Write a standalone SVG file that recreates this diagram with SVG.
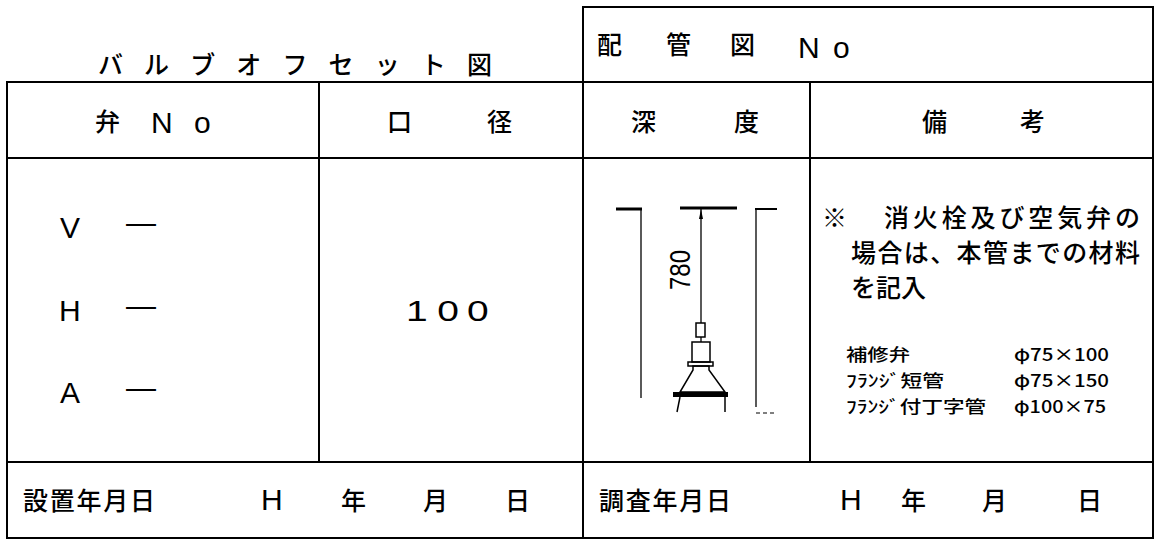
<svg xmlns="http://www.w3.org/2000/svg" width="1155" height="539" viewBox="0 0 1155 539">
<style>
.g{stroke:#000;stroke-width:2;fill:none;stroke-linecap:square}
.j{font-family:"Noto Sans CJK JP",sans-serif;font-size:25px;font-weight:500;fill:#000}
.l{font-family:"Liberation Sans","Noto Sans CJK JP",sans-serif;font-size:30px;fill:#000}
.s{font-family:"Noto Sans CJK JP",sans-serif;font-size:17px;font-weight:500;fill:#000}
.d{stroke:#000;fill:none}
</style>
<rect width="1155" height="539" fill="#fff"/>
<g id="grid" class="g">
<line x1="7" y1="82" x2="1153" y2="82"/>
<line x1="583" y1="7" x2="1153" y2="7"/>
<line x1="583" y1="7" x2="583" y2="538"/>
<line x1="7" y1="82" x2="7" y2="538"/>
<line x1="1153" y1="7" x2="1153" y2="538"/>
<line x1="319" y1="82" x2="319" y2="462"/>
<line x1="810" y1="82" x2="810" y2="462"/>
<line x1="7" y1="158" x2="1153" y2="158"/>
<line x1="7" y1="462" x2="1153" y2="462"/>
<line x1="7" y1="538" x2="1153" y2="538"/>
</g>
<g id="title">
<text class="j" x="98" y="74" textLength="394" lengthAdjust="spacing">バルブオフセット図</text>
</g>
<g id="pipe-no">
<text class="j" x="597" y="54">配</text>
<text class="j" x="666" y="54">管</text>
<text class="j" x="730" y="54">図</text>
<text class="l" x="798" y="58">N</text>
<text class="l" x="833" y="58">o</text>
</g>
<g id="hdr-valve">
<text class="j" x="95" y="131">弁</text>
<text class="l" x="151" y="133">N</text>
<text class="l" x="194" y="133">o</text>
</g>
<g id="hdr-dia">
<text class="j" x="387" y="131">口</text>
<text class="j" x="487" y="131">径</text>
</g>
<g id="hdr-depth">
<text class="j" x="631" y="131">深</text>
<text class="j" x="734" y="131">度</text>
</g>
<g id="hdr-note">
<text class="j" x="922" y="131">備</text>
<text class="j" x="1020" y="131">考</text>
</g>
<g id="valve-no">
<text class="l" x="60" y="238">V</text>
<text class="l" x="126" y="233" font-size="23">—</text>
<text class="l" x="59" y="321">H</text>
<text class="l" x="126" y="316" font-size="23">—</text>
<text class="l" x="60" y="403">A</text>
<text class="l" x="126" y="398" font-size="23">—</text>
</g>
<g id="diameter">
<text class="l" transform="translate(406,321) scale(1.3,1)" x="0 24 47">100</text>
</g>
<g id="depth">
<line class="d" x1="616" y1="209" x2="642" y2="209" stroke-width="3"/>
<line class="d" x1="641" y1="209" x2="641" y2="398" stroke-width="1.3"/>
<line class="d" x1="680" y1="208" x2="737" y2="208" stroke-width="3"/>
<line class="d" x1="755" y1="209" x2="777" y2="209" stroke-width="2"/>
<line class="d" x1="756" y1="209" x2="756" y2="407" stroke-width="1.3"/>
<line class="d" x1="756" y1="413" x2="777" y2="413" stroke-width="1.2" stroke-dasharray="4 3"/>
<line class="d" x1="701" y1="208" x2="701" y2="323" stroke-width="1.3"/>
<polygon points="701,209 699,219 703,219" fill="#000"/>
<text class="l" transform="translate(690,270) rotate(-90)" text-anchor="middle" font-size="32" textLength="40" lengthAdjust="spacingAndGlyphs">780</text>
<rect class="d" x="696" y="323" width="9" height="14" stroke-width="1.5"/>
<line class="d" x1="701" y1="337" x2="701" y2="342" stroke-width="1.3"/>
<rect class="d" x="692" y="342" width="18" height="20" stroke-width="1.5"/>
<rect class="d" x="688" y="362" width="25" height="4" stroke-width="1.5"/>
<polygon class="d" points="693,366 709,366 709,370 725,392 680,392 693,370" stroke-width="1.5"/>
<rect x="673" y="392" width="55" height="5" fill="#000"/>
<line class="d" x1="680" y1="397" x2="677" y2="412" stroke-width="1.5"/>
<line class="d" x1="725" y1="397" x2="725" y2="412" stroke-width="1.5"/>
</g>
<g id="remarks">
<text class="j" x="822" y="227" font-size="24">※</text>
<text class="j" x="884" y="227" font-size="24" textLength="256" lengthAdjust="spacing">消火栓及び空気弁の</text>
<text class="j" x="851" y="262" font-size="24" textLength="289" lengthAdjust="spacing">場合は、本管までの材料</text>
<text class="j" x="851" y="297" font-size="24">を記入</text>
<text class="s" x="846" y="361" textLength="64" lengthAdjust="spacingAndGlyphs">補修弁</text>
<text class="s" x="846" y="387" textLength="98" lengthAdjust="spacingAndGlyphs">ﾌﾗﾝｼﾞ短管</text>
<text class="s" x="846" y="413" textLength="140" lengthAdjust="spacingAndGlyphs">ﾌﾗﾝｼﾞ付丁字管</text>
<text class="s" x="1014" y="361" textLength="95" lengthAdjust="spacingAndGlyphs">φ75×100</text>
<text class="s" x="1014" y="387" textLength="95" lengthAdjust="spacingAndGlyphs">φ75×150</text>
<text class="s" x="1014" y="413" textLength="92" lengthAdjust="spacingAndGlyphs">φ100×75</text>
</g>
<g id="install-date">
<text class="j" x="23" y="510" textLength="132" lengthAdjust="spacing">設置年月日</text>
<text class="l" x="261" y="510" font-size="24">H</text>
<text class="j" x="341" y="510">年</text>
<text class="j" x="423" y="510">月</text>
<text class="j" x="505" y="510">日</text>
</g>
<g id="survey-date">
<text class="j" x="599" y="510" textLength="132" lengthAdjust="spacing">調査年月日</text>
<text class="l" x="840" y="510" font-size="24">H</text>
<text class="j" x="901" y="510">年</text>
<text class="j" x="982" y="510">月</text>
<text class="j" x="1077" y="510">日</text>
</g>
</svg>
